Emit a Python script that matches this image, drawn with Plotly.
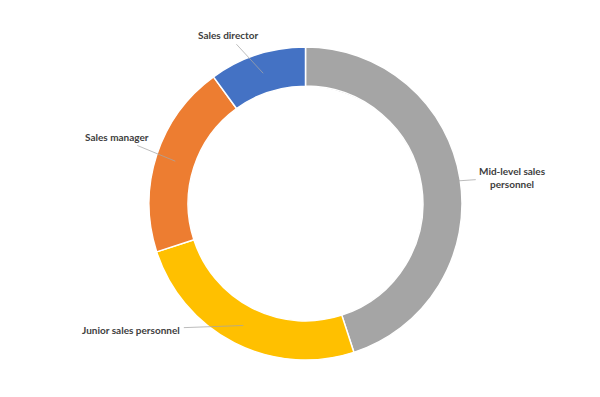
import math
import plotly.graph_objects as go

# Data (clockwise from 12 o'clock)
categories = ["Mid-level sales personnel", "Junior sales personnel", "Sales manager", "Sales director"]
shares = [45, 25, 20, 10]
display_labels = ["Mid-level sales<br>personnel", "Junior sales personnel", "Sales manager", "Sales director"]

colors = ["#A5A5A5", "#FFC000", "#ED7D31", "#4472C4"]
# label offsets (pixels) from the leader-line anchor
label_dx = [72, -112, -58, -35]
label_dy = [-5, 4, -24, -38]

W, H = 600, 397
PAGE_OFF = 8              # default body margin of the page
CX, CY = 305.5 - PAGE_OFF, 203.5 - PAGE_OFF
R_OUT = 156.5
HOLE = 0.75
R_MID = R_OUT * (1 + HOLE) / 2

fig = go.Figure(go.Pie(
    labels=categories,
    values=shares,
    hole=HOLE,
    sort=False,
    direction="clockwise",
    rotation=0,
    marker=dict(colors=colors, line=dict(color="white", width=1.5)),
    textinfo="none",
    hoverinfo="label+percent",
    showlegend=False,
    domain=dict(x=[(CX - R_OUT) / W, (CX + R_OUT) / W],
                y=[1 - (CY + R_OUT) / H, 1 - (CY - R_OUT) / H]),
))

total = sum(shares)
cum = 0
annotations = []
for lab, v, dx, dy in zip(display_labels, shares, label_dx, label_dy):
    mid = (cum + v / 2) / total * 2 * math.pi
    cum += v
    px = CX + R_MID * math.sin(mid)
    py = CY - R_MID * math.cos(mid)
    annotations.append(dict(
        x=px / W, y=1 - py / H, xref="paper", yref="paper",
        text=lab, showarrow=True, arrowhead=0, arrowwidth=0.75,
        arrowcolor="#A6A6A6", ax=dx, ay=dy, standoff=0, startstandoff=2,
        font=dict(family="Lato", size=10, color="#404040", weight="bold"),
        align="center",
    ))

fig.update_layout(
    width=W, height=H,
    margin=dict(l=0, r=0, t=0, b=0),
    paper_bgcolor="white", plot_bgcolor="white",
    annotations=annotations,
)

fig.write_html("out.html")
